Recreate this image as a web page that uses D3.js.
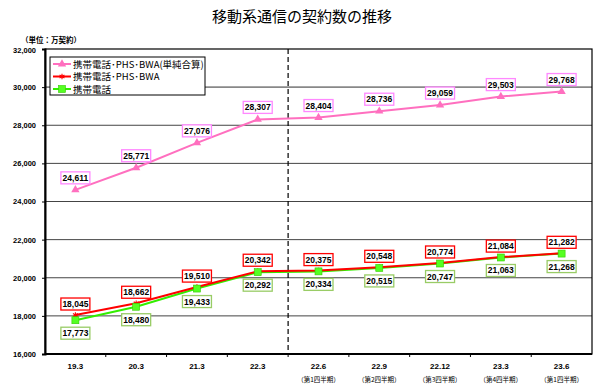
<!DOCTYPE html>
<html>
<head>
<meta charset="utf-8">
<script src="https://cdn.jsdelivr.net/npm/d3@7"></script>
<style>
  body { margin: 0; background: #fff; }
  text { font-family: "Liberation Sans", Arial, "Noto Sans CJK JP", sans-serif; }
  .jp { font-family: "Noto Sans CJK JP", sans-serif; }
</style>
</head>
<body>
<div id="chart"></div>
<script>
const categories = ['19.3', '20.3', '21.3', '22.3', '22.6', '22.9', '22.12', '23.3', '23.6'];
const subLabels = ['', '', '', '', '（第1四半期）', '（第2四半期）', '（第3四半期）', '（第4四半期）', '（第1四半期）'];
const totalSimple = [24611, 25771, 27076, 28307, 28404, 28736, 29059, 29503, 29768];
const mobilePhsBwa = [18045, 18662, 19510, 20342, 20375, 20548, 20774, 21084, 21282];
const mobileOnly = [17773, 18480, 19433, 20292, 20334, 20515, 20747, 21063, 21268];
const yTicks = [16000, 18000, 20000, 22000, 24000, 26000, 28000, 30000, 32000];

const series = [
  { name: '携帯電話･PHS･BWA(単純合算)', values: totalSimple, color: '#ff6fbf', box: '#ff88ff', marker: 'triangle', labelDy: -12 },
  { name: '携帯電話･PHS･BWA', values: mobilePhsBwa, color: '#ff0000', box: '#ff0000', marker: 'cross', labelDy: -11 },
  { name: '携帯電話', values: mobileOnly, color: '#33ee00', box: '#99cc66', marker: 'square', labelDy: 13 }
];

const W = 600, H = 389;
const mLeft = 45, mRight = 592, mTop = 49, mBottom = 354;

const svg = d3.select('#chart').append('svg')
  .attr('width', W).attr('height', H);

const x = d3.scaleBand().domain(categories).range([mLeft, mRight]);
const y = d3.scaleLinear().domain([16000, 32000]).range([mBottom, mTop]);

// title
svg.append('text')
  .attr('class', 'jp')
  .attr('x', 302).attr('y', 22)
  .attr('text-anchor', 'middle')
  .attr('font-size', 15)
  .text('移動系通信の契約数の推移');

svg.append('text')
  .attr('class', 'jp')
  .attr('x', 21).attr('y', 43)
  .attr('font-size', 7.5).attr('font-weight', 'bold')
  .text('（単位：万契約）');

// gridlines
svg.append('g')
  .selectAll('line')
  .data(yTicks.slice(1, -1))
  .enter().append('line')
  .attr('x1', mLeft).attr('x2', mRight)
  .attr('y1', d => y(d)).attr('y2', d => y(d))
  .attr('stroke', d => d === 30000 ? '#888' : '#444')
  .attr('stroke-width', d => d === 30000 ? 1.6 : 1);

// plot frame
svg.append('rect')
  .attr('x', mLeft).attr('y', mTop)
  .attr('width', mRight - mLeft).attr('height', mBottom - mTop)
  .attr('fill', 'none').attr('stroke', '#000').attr('stroke-width', 1.2);

// left axis
const yAxis = svg.append('g')
  .attr('transform', 'translate(' + mLeft + ',0)')
  .call(d3.axisLeft(y).tickValues(yTicks).tickSize(3).tickFormat(d3.format(',')));
yAxis.select('.domain').attr('stroke-width', 2);
yAxis.selectAll('text')
  .attr('font-size', 7.5).attr('font-weight', 'bold').attr('x', -9);
yAxis.selectAll('.tick text').filter(d => d === 32000).attr('dy', '0.5em');

// bottom axis
const xAxis = svg.append('g')
  .attr('transform', 'translate(0,' + mBottom + ')');
xAxis.append('line')
  .attr('x1', mLeft).attr('x2', mRight)
  .attr('stroke', '#000').attr('stroke-width', 2);
xAxis.selectAll('.tk')
  .data(categories.slice(1))
  .enter().append('line')
  .attr('x1', d => x(d)).attr('x2', d => x(d))
  .attr('y1', 0).attr('y2', 3)
  .attr('stroke', '#000');
xAxis.selectAll('.lbl')
  .data(categories)
  .enter().append('text')
  .attr('x', d => x(d) + x.bandwidth() / 2)
  .attr('y', 15)
  .attr('text-anchor', 'middle')
  .attr('font-size', 8).attr('font-weight', 'bold')
  .text(d => d);
xAxis.selectAll('.sub')
  .data(categories)
  .enter().append('text')
  .attr('class', 'jp')
  .attr('x', d => x(d) + x.bandwidth() / 2)
  .attr('y', 28)
  .attr('text-anchor', 'middle')
  .attr('font-size', 6.5)
  .text((d, i) => subLabels[i]);

// dashed divider between 22.3 and 22.6
svg.append('line')
  .attr('x1', x('22.6')).attr('x2', x('22.6'))
  .attr('y1', mTop).attr('y2', mBottom)
  .attr('stroke', '#000').attr('stroke-width', 1.2)
  .attr('stroke-dasharray', '5,3');

const cx = d => x(d) + x.bandwidth() / 2;

function drawMarker(g, type, color, px, py) {
  if (type === 'triangle') {
    g.append('path')
      .attr('d', d3.symbol().type(d3.symbolTriangle).size(30)())
      .attr('transform', 'translate(' + px + ',' + py + ')')
      .attr('fill', color);
  } else if (type === 'square') {
    g.append('rect')
      .attr('x', px - 3.5).attr('y', py - 3.5).attr('width', 7).attr('height', 7)
      .attr('fill', '#55ff22').attr('stroke', '#33cc00').attr('stroke-width', 0.6);
  } else {
    g.append('path')
      .attr('d', d3.symbol().type(d3.symbolAsterisk).size(22)())
      .attr('transform', 'translate(' + px + ',' + py + ')')
      .attr('stroke', color).attr('stroke-width', 1.1).attr('fill', 'none');
  }
}

const line = d3.line()
  .x((v, i) => cx(categories[i]))
  .y(v => y(v));

// lines first (green under red), then markers with green squares on top
const lineG = svg.append('g');
[series[2], series[1], series[0]].forEach(s => {
  lineG.append('path')
    .datum(s.values)
    .attr('d', line)
    .attr('fill', 'none')
    .attr('stroke', s.color)
    .attr('stroke-width', 2);
});
const markG = svg.append('g');
[series[0], series[1], series[2]].forEach(s => {
  s.values.forEach((v, i) => drawMarker(markG, s.marker, s.color, cx(categories[i]), y(v)));
});

// value labels
series.forEach(s => {
  const g = svg.append('g');
  s.values.forEach((v, i) => {
    const px = cx(categories[i]), py = y(v) + s.labelDy;
    const bw = 29, bh = 12;
    g.append('rect')
      .attr('x', px - bw / 2).attr('y', py - bh / 2)
      .attr('width', bw).attr('height', bh)
      .attr('fill', '#fff')
      .attr('stroke', s.box).attr('stroke-width', 1.3);
    g.append('text')
      .attr('x', px).attr('y', py + 3)
      .attr('text-anchor', 'middle')
      .attr('font-size', 8.5).attr('font-weight', 'bold')
      .text(d3.format(',')(v));
  });
});

// legend
const lg = svg.append('g');
lg.append('rect')
  .attr('x', 50).attr('y', 57).attr('width', 155).attr('height', 38)
  .attr('fill', '#fff').attr('stroke', '#000').attr('stroke-width', 1);
series.forEach((s, i) => {
  const ly = 64 + i * 12.5;
  lg.append('line')
    .attr('x1', 53).attr('x2', 71).attr('y1', ly).attr('y2', ly)
    .attr('stroke', s.color).attr('stroke-width', 2);
  drawMarker(lg, s.marker, s.color, 62, ly);
  lg.append('text')
    .attr('class', 'jp')
    .attr('x', 73).attr('y', ly + 3.5)
    .attr('font-size', 9.5)
    .text(s.name);
});
</script>
</body>
</html>
